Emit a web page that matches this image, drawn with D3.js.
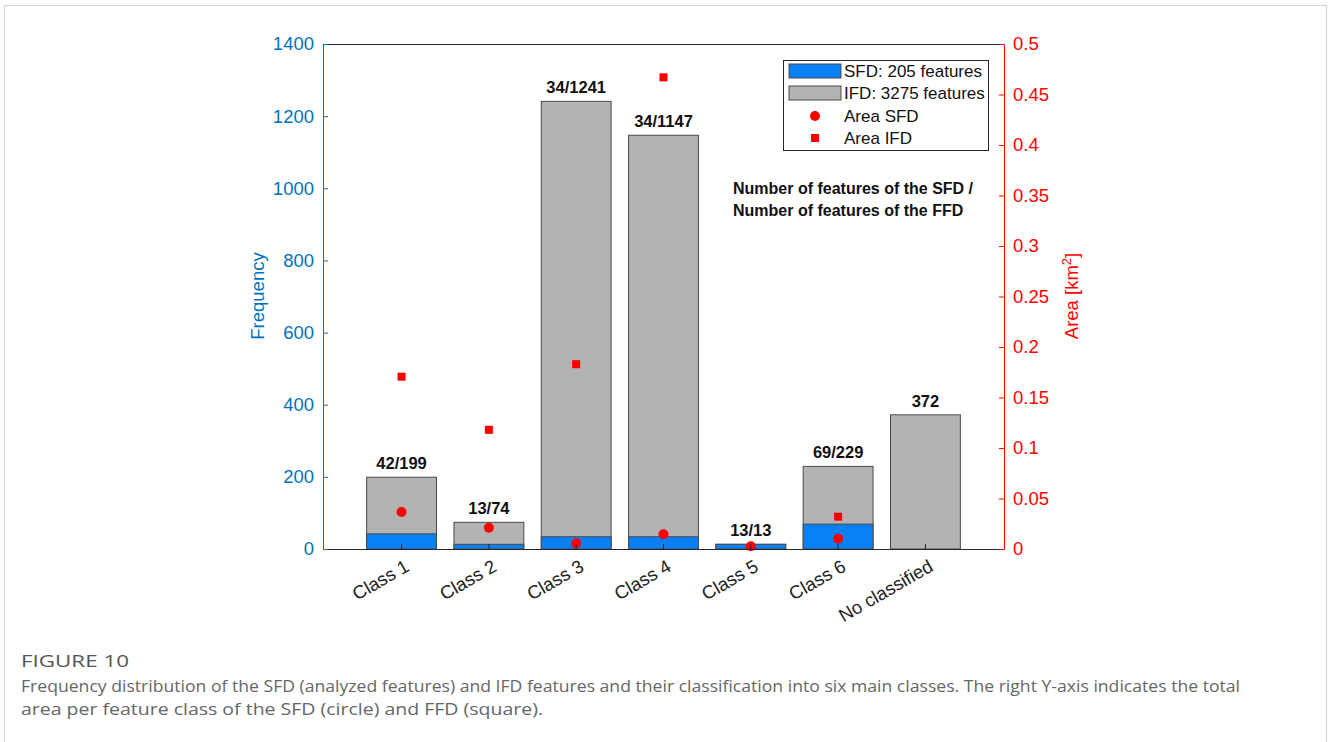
<!DOCTYPE html>
<html>
<head>
<meta charset="utf-8">
<script src="https://cdn.jsdelivr.net/npm/d3@7"></script>
<style>
  body { margin: 0; background: #fff; }
  svg { display: block; }
  text { font-family: "Liberation Sans", Arial, sans-serif; }
</style>
</head>
<body>
<script>
// Feature classes and counts
const categories = ["Class 1", "Class 2", "Class 3", "Class 4", "Class 5", "Class 6", "No classified"];
const sfdCounts = [42, 13, 34, 34, 13, 69, 0];
const ifdCounts = [199, 74, 1241, 1147, 13, 229, 372];
const barLabels = ["42/199", "13/74", "34/1241", "34/1147", "13/13", "69/229", "372"];
// Total area per class [km²]
const areaSFD = [0.0366, 0.021, 0.0056, 0.0146, 0.0027, 0.0102, null];
const areaIFD = [0.1706, 0.118, 0.183, 0.467, null, 0.032, null];
// Axis ticks
const freqTicks = [0, 200, 400, 600, 800, 1000, 1200, 1400];
const areaTicks = [0, 0.05, 0.1, 0.15, 0.2, 0.25, 0.3, 0.35, 0.4, 0.45, 0.5];
const legendItems = ["SFD: 205 features", "IFD: 3275 features", "Area SFD", "Area IFD"];

const W = 1328, H = 742;
const plot = { left: 323, right: 1004, top: 44, bottom: 549 };
const BLUE = "#0A80F5", GRAY = "#B3B3B3", EDGE = "#4a4a4a", AXIS = "#262626";
const LBLUE = "#0072BD", RED = "#FF0000";
const FONT = "'Liberation Sans', Arial, sans-serif";

const svg = d3.select("body").append("svg").attr("width", W).attr("height", H);

// outer frame
svg.append("rect").attr("x", 4.5).attr("y", 5.5).attr("width", 1322).attr("height", 760)
  .attr("fill", "none").attr("stroke", "#d4d4d4").attr("stroke-width", 1.2);

const x = d3.scaleBand().domain(categories).range([plot.left, plot.right])
  .paddingInner(0.2).paddingOuter(0.5);
const yL = d3.scaleLinear().domain([0, 1400]).range([plot.bottom, plot.top]);
const yR = d3.scaleLinear().domain([0, 0.5]).range([plot.bottom, plot.top]);
const cx = d => x(d) + x.bandwidth() / 2;

// IFD bars (total) then SFD bars on top
svg.append("g").selectAll("rect").data(categories).join("rect")
  .attr("x", d => x(d)).attr("width", x.bandwidth())
  .attr("y", (d, i) => yL(ifdCounts[i])).attr("height", (d, i) => yL(0) - yL(ifdCounts[i]))
  .attr("fill", GRAY).attr("stroke", EDGE).attr("stroke-width", 1);
svg.append("g").selectAll("rect").data(categories.filter((d, i) => sfdCounts[i] > 0)).join("rect")
  .attr("x", d => x(d)).attr("width", x.bandwidth())
  .attr("y", d => yL(sfdCounts[categories.indexOf(d)]))
  .attr("height", d => yL(0) - yL(sfdCounts[categories.indexOf(d)]))
  .attr("fill", BLUE).attr("stroke", EDGE).attr("stroke-width", 1);

// count labels above bars
svg.append("g").selectAll("text").data(categories).join("text")
  .attr("x", cx)
  .attr("y", (d, i) => yL(Math.max(ifdCounts[i], sfdCounts[i])) - 8)
  .attr("text-anchor", "middle").attr("font-size", 16.5).attr("font-weight", "bold")
  .attr("fill", "#111").text((d, i) => barLabels[i]);

// area markers
svg.append("g").selectAll("circle").data(categories.filter((d, i) => areaSFD[i] != null)).join("circle")
  .attr("cx", cx).attr("cy", d => yR(areaSFD[categories.indexOf(d)])).attr("r", 5)
  .attr("fill", RED);
svg.append("g").selectAll("rect").data(categories.filter((d, i) => areaIFD[i] != null)).join("rect")
  .attr("x", d => cx(d) - 4).attr("y", d => yR(areaIFD[categories.indexOf(d)]) - 4)
  .attr("width", 8).attr("height", 8).attr("fill", RED);

// axes
const gBottom = svg.append("g").attr("transform", `translate(0,${plot.bottom})`)
  .call(d3.axisBottom(x).tickSizeInner(-5).tickSizeOuter(0).tickFormat(""));
gBottom.select(".domain").attr("stroke", AXIS);
gBottom.selectAll(".tick line").attr("stroke", AXIS);
svg.append("line").attr("x1", plot.left).attr("x2", plot.right)
  .attr("y1", plot.top + 0.5).attr("y2", plot.top + 0.5).attr("stroke", AXIS);

// rotated category labels
svg.append("g").selectAll("text").data(categories).join("text")
  .attr("transform", d => `translate(${cx(d) + 2},${plot.bottom + 9}) rotate(-30)`)
  .attr("text-anchor", "end").attr("dy", "0.75em").attr("font-size", 18.5)
  .attr("fill", "#222").text(d => d);

const gLeft = svg.append("g").attr("transform", `translate(${plot.left},0)`)
  .call(d3.axisLeft(yL).tickValues(freqTicks).tickSizeInner(-5).tickSizeOuter(0).tickPadding(9)
    .tickFormat(d3.format("d")));
gLeft.select(".domain").attr("stroke", LBLUE);
gLeft.selectAll(".tick line").attr("stroke", LBLUE);
gLeft.selectAll(".tick text").attr("fill", LBLUE).attr("font-size", 18.5).attr("font-family", FONT);

const gRight = svg.append("g").attr("transform", `translate(${plot.right},0)`)
  .call(d3.axisRight(yR).tickValues(areaTicks).tickSizeInner(-5).tickSizeOuter(0).tickPadding(9)
    .tickFormat(d3.format("~g")));
gRight.select(".domain").attr("stroke", RED);
gRight.selectAll(".tick line").attr("stroke", RED);
gRight.selectAll(".tick text").attr("fill", RED).attr("font-size", 18.5).attr("font-family", FONT);

// axis titles
svg.append("text").attr("transform", `translate(264,296) rotate(-90)`)
  .attr("text-anchor", "middle").attr("font-size", 18.5).attr("fill", LBLUE).text("Frequency");
const rt = svg.append("text").attr("transform", `translate(1078,296) rotate(-90)`)
  .attr("text-anchor", "middle").attr("font-size", 18.5).attr("fill", RED);
rt.append("tspan").text("Area [km");
rt.append("tspan").attr("dy", -7).attr("font-size", 13).text("2");
rt.append("tspan").attr("dy", 7).text("]");

// annotation
const ann = svg.append("text").attr("font-size", 16).attr("font-weight", "bold").attr("fill", "#111");
ann.append("tspan").attr("x", 733).attr("y", 194).text("Number of features of the SFD /");
ann.append("tspan").attr("x", 733).attr("y", 216).text("Number of features of the FFD");

// legend
const lg = svg.append("g");
lg.append("rect").attr("x", 783.5).attr("y", 60.5).attr("width", 205).attr("height", 90)
  .attr("fill", "#fff").attr("stroke", AXIS).attr("stroke-width", 1);
const rowY = [71, 93, 116, 138];
lg.append("rect").attr("x", 789).attr("y", rowY[0] - 7).attr("width", 52).attr("height", 14)
  .attr("fill", BLUE).attr("stroke", EDGE);
lg.append("rect").attr("x", 789).attr("y", rowY[1] - 7).attr("width", 52).attr("height", 14)
  .attr("fill", GRAY).attr("stroke", EDGE);
lg.append("circle").attr("cx", 815).attr("cy", rowY[2]).attr("r", 5).attr("fill", RED);
lg.append("rect").attr("x", 811).attr("y", rowY[3] - 4).attr("width", 8).attr("height", 8).attr("fill", RED);
lg.selectAll("text.item").data(legendItems).join("text").attr("class", "item")
  .attr("x", 844).attr("y", (d, i) => rowY[i] + 6).attr("font-size", 17).attr("fill", "#111")
  .text(d => d);

// caption
const cap = svg.append("g");
cap.append("text").attr("x", 21).attr("y", 667).attr("font-size", 16).attr("fill", "#555")
  .style("font-family", "'Open Sans', sans-serif").attr("textLength", 108).attr("lengthAdjust", "spacingAndGlyphs")
  .text("FIGURE 10");
cap.append("text").attr("x", 21).attr("y", 692).attr("font-size", 16).attr("fill", "#666")
  .style("font-family", "'Open Sans', sans-serif").attr("textLength", 1219).attr("lengthAdjust", "spacingAndGlyphs")
  .text("Frequency distribution of the SFD (analyzed features) and IFD features and their classification into six main classes. The right Y-axis indicates the total");
cap.append("text").attr("x", 21).attr("y", 715).attr("font-size", 16).attr("fill", "#666")
  .style("font-family", "'Open Sans', sans-serif").attr("textLength", 522).attr("lengthAdjust", "spacingAndGlyphs")
  .text("area per feature class of the SFD (circle) and FFD (square).");
</script>
</body>
</html>
